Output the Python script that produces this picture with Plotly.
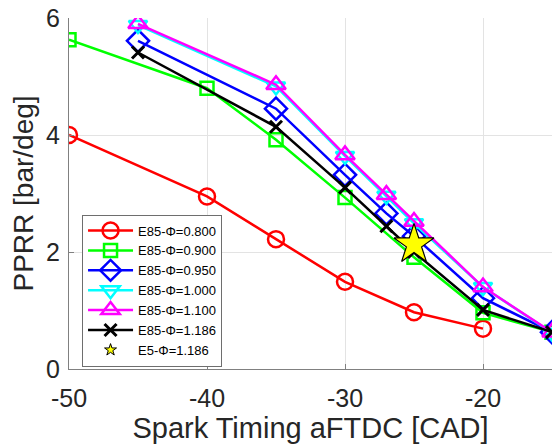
import plotly.graph_objects as go

x_red = [-50, -40, -35, -30, -25, -20]
y_red = [4.00, 2.95, 2.22, 1.49, 0.97, 0.69]

x_green = [-50, -40, -35, -30, -25, -20, -15]
y_green = [5.63, 4.80, 3.92, 2.93, 1.91, 0.96, 0.63]

x_main = [-45, -35, -30, -27, -25, -20, -15]
y_blue = [5.61, 4.45, 3.32, 2.66, 2.27, 1.21, 0.63]
y_cyan = [5.88, 4.83, 3.64, 2.96, 2.49, 1.40, 0.62]
y_magenta = [5.90, 4.86, 3.66, 2.98, 2.52, 1.40, 0.63]
y_black = [5.41, 4.14, 3.10, 2.44, 2.00, 1.01, 0.63]

x_star = [-25]
y_star = [2.13]

x_ticks = [-50, -40, -30, -20]
x_ticklabels = ["-50", "-40", "-30", "-20"]
y_ticks = [0, 2, 4, 6]
y_ticklabels = ["0", "2", "4", "6"]

names = ["E85-Φ=0.800", "E85-Φ=0.900", "E85-Φ=0.950", "E85-Φ=1.000",
         "E85-Φ=1.100", "E85-Φ=1.186", "E5-Φ=1.186"]

fig = go.Figure()

def add(x, y, name, color, symbol, size, mlw=2.5):
    fig.add_trace(go.Scatter(
        x=x, y=y, name=name, mode="lines+markers",
        line=dict(color=color, width=2.5),
        marker=dict(symbol=symbol, size=size, color=color,
                    line=dict(color=color, width=mlw)),
    ))

add(x_red, y_red, names[0], "#FF0000", "circle-open", 16)
add(x_green, y_green, names[1], "#00FF00", "square-open", 13)
add(x_main, y_blue, names[2], "#0000FF", "diamond-open", 17)
add(x_main, y_cyan, names[3], "#00FFFF", "triangle-down-open", 16)
add(x_main, y_magenta, names[4], "#FF00FF", "triangle-up-open", 17)
add(x_main, y_black, names[5], "#000000", "x-thin-open", 12, 3)

# star marker on plot (legend entry drawn separately with small star)
fig.add_trace(go.Scatter(
    x=x_star, y=y_star, name=names[6], mode="markers", showlegend=False,
    marker=dict(symbol="star", size=30, color="#FFFF00",
                line=dict(color="#000000", width=1.2)),
))
fig.add_trace(go.Scatter(
    x=[None], y=[None], name=names[6], mode="markers",
    marker=dict(symbol="star", size=9, color="#FFFF00",
                line=dict(color="#000000", width=1)),
))

axis_common = dict(
    showgrid=True, gridcolor="#E3E3E3", gridwidth=1,
    showline=True, linecolor="#808080", linewidth=1,
    ticks="inside", ticklen=5, tickcolor="#808080",
    zeroline=False, automargin=False, ticklabeloverflow="allow",
    tickfont=dict(family="Liberation Sans, Arial", size=25, color="#262626"),
)

fig.update_layout(
    width=553, height=447,
    margin=dict(l=69, r=1, t=18, b=78),
    paper_bgcolor="white", plot_bgcolor="white",
    font=dict(family="Liberation Sans, Arial", color="#262626"),
    xaxis=dict(range=[-50, -15], tickvals=x_ticks, ticktext=x_ticklabels,
               ticklabelstandoff=7,
               title=dict(text="Spark Timing aFTDC [CAD]",
                          font=dict(size=29, color="#262626"), standoff=4),
               **axis_common),
    yaxis=dict(range=[0, 6], tickvals=y_ticks, ticktext=y_ticklabels,
               ticklabelstandoff=3,
               title=dict(text="PPRR [bar/deg]",
                          font=dict(size=28, color="#262626"), standoff=4),
               **axis_common),
    legend=dict(x=0.027, y=0.44, xanchor="left", yanchor="top",
                bgcolor="white", bordercolor="#6E6E6E", borderwidth=1,
                font=dict(size=13, color="#000000"),
                itemwidth=45, tracegroupgap=0),
    showlegend=True,
)

fig.write_html("out.html", config={"displayModeBar": False},
               post_script="document.body.style.margin='0px';")
